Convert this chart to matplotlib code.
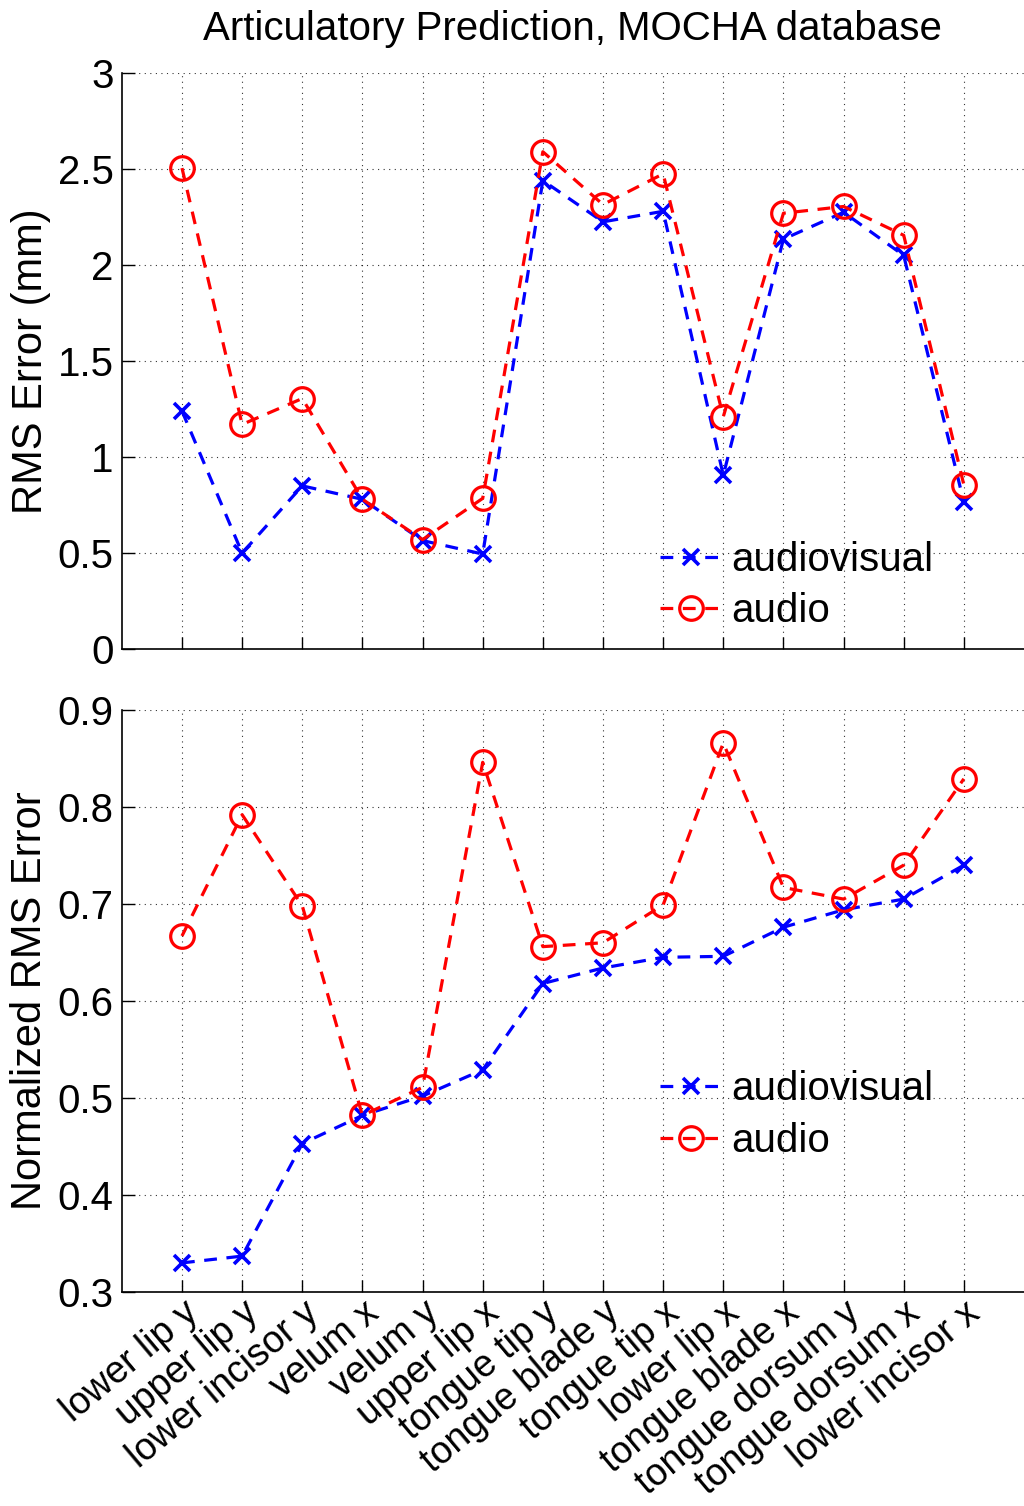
import matplotlib
matplotlib.use("Agg")
import matplotlib.pyplot as plt
import numpy as np

plt.rcParams['font.family'] = ['Liberation Sans', 'DejaVu Sans']

articulators = ["lower lip y", "upper lip y", "lower incisor y", "velum x", "velum y",
                "upper lip x", "tongue tip y", "tongue blade y", "tongue tip x",
                "lower lip x", "tongue blade x", "tongue dorsum y", "tongue dorsum x",
                "lower incisor x"]

rms_audiovisual = [1.24, 0.50, 0.85, 0.78, 0.565, 0.495, 2.44, 2.225, 2.28,
                   0.905, 2.135, 2.275, 2.05, 0.765]
rms_audio = [2.505, 1.17, 1.305, 0.78, 0.57, 0.785, 2.59, 2.315, 2.475,
             1.21, 2.27, 2.305, 2.155, 0.855]

nrms_audiovisual = [0.330, 0.337, 0.453, 0.482, 0.502, 0.529, 0.618, 0.634,
                    0.645, 0.646, 0.676, 0.694, 0.705, 0.740]
nrms_audio = [0.667, 0.792, 0.698, 0.482, 0.511, 0.846, 0.656, 0.660,
              0.699, 0.866, 0.717, 0.705, 0.740, 0.829]

x = np.arange(1, len(articulators) + 1)

fig = plt.figure(figsize=(10.24, 15.06), dpi=100)
ax1 = fig.add_axes([0.119, 0.569, 0.881, 0.3825])
ax2 = fig.add_axes([0.119, 0.1421, 0.881, 0.3865])

FS = 29


def style(ax, yticks, ylim):
    ax.set_xlim(0, 15)
    ax.set_ylim(*ylim)
    ax.set_yticks(yticks)
    ax.set_xticks(x)
    for s in ("top", "right"):
        ax.spines[s].set_visible(False)
    for s in ("left", "bottom"):
        ax.spines[s].set_linewidth(1.2)
    ax.tick_params(direction="in", length=9, width=1.0, labelsize=FS, pad=6)
    ax.grid(True, linestyle=(0, (1, 4)), color="black", linewidth=0.8, alpha=0.8)
    ax.set_axisbelow(True)


def plot_pair(ax, av, au, legend_top):
    ax.plot(x, av, linestyle=(0, (4, 3)), color="blue", lw=2.3, marker="x",
            markersize=12, markeredgewidth=2.6, label="audiovisual", clip_on=False)
    ax.plot(x, au, linestyle=(0, (4, 3)), color="red", lw=2.3, marker="o",
            markersize=17, markerfacecolor="none", markeredgewidth=2.3,
            label="audio", clip_on=False)
    ax.legend(loc="upper left", bbox_to_anchor=(0.597, legend_top), frameon=False,
              fontsize=FS, handlelength=1.5, handletextpad=0.25, labelspacing=0.34,
              borderaxespad=0.0, borderpad=0.0)


plot_pair(ax1, rms_audiovisual, rms_audio, 0.188)
style(ax1, np.arange(0, 3.01, 0.5), (0, 3))
ax1.set_yticklabels(["0", "0.5", "1", "1.5", "2", "2.5", "3"])
ax1.set_xticklabels([])
ax1.set_ylabel("RMS Error (mm)", fontsize=FS + 1, labelpad=5)
ax1.set_title("Articulatory Prediction, MOCHA database", fontsize=FS, pad=24)

plot_pair(ax2, nrms_audiovisual, nrms_audio, 0.381)
style(ax2, np.arange(0.3, 0.901, 0.1), (0.3, 0.9))
ax2.set_yticklabels([f"{v:.1f}" for v in np.arange(0.3, 0.901, 0.1)])
ax2.set_xticklabels(articulators, rotation=40, ha="right", rotation_mode="anchor",
                    fontsize=FS - 2)
ax2.tick_params(axis="x", pad=2)
ax2.set_ylabel("Normalized RMS Error", fontsize=FS + 1, labelpad=5)

fig.savefig("out.png", dpi=100)
